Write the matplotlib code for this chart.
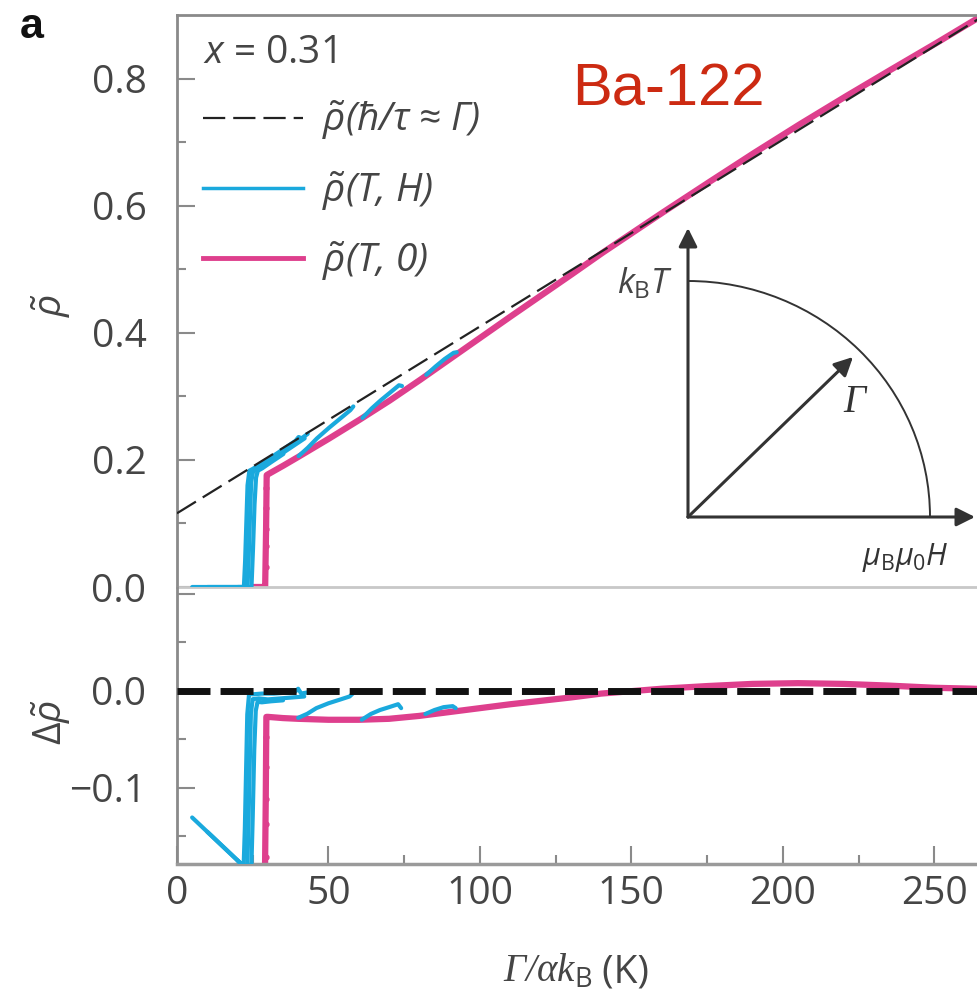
import numpy as np
import matplotlib
matplotlib.use('Agg')
import matplotlib.pyplot as plt
from matplotlib.lines import Line2D
from matplotlib.patches import Arc

plt.rcParams['font.family'] = ['Open Sans', 'DejaVu Sans']
plt.rcParams['mathtext.fontset'] = 'custom'
plt.rcParams['mathtext.rm'] = 'Open Sans'
plt.rcParams['mathtext.it'] = 'Open Sans:italic'
plt.rcParams['mathtext.bf'] = 'Open Sans:bold'

# linear fit rho(hbar/tau ~ Gamma)
fit_intercept = 0.116
fit_slope = 0.00295
fit_gamma = np.array([0.0, 274.0])

# rho(T, 0)
pink_gamma = np.array([25.0, 26.5, 28.0, 29.0, 29.3, 29.5, 30, 35, 40, 50, 60, 70, 80, 90, 100, 110, 120,
                       130, 140, 150, 160, 175, 190, 205, 220, 235, 250, 262, 274])
pink_rho = np.array([0.0, 0.0, 0.0, 0.0, 0.09, 0.176, 0.1775, 0.191, 0.205, 0.2335, 0.263, 0.2935, 0.326,
                     0.3595, 0.393, 0.4265, 0.4595, 0.4925, 0.526, 0.558, 0.590, 0.637, 0.6835,
                     0.7285, 0.772, 0.8145, 0.8565, 0.891, 0.925])
# sparse points through the transition
pink_tr_gamma = np.array([29.3, 29.3, 29.3, 29.3, 29.3])
pink_tr_rho = np.array([0.031, 0.065, 0.091, 0.124, 0.155])

# rho(T, H), field sweeps at several temperatures
cyan_curves = [
    ([5, 12, 18, 22.0, 22.4, 22.8, 23.2, 23.8, 25, 28, 32, 36, 39, 40, 41, 43],
     [0, 0, 0, 0, 0.04, 0.10, 0.16, 0.183, 0.186, 0.1956, 0.2074, 0.2202, 0.230, 0.236, 0.234, 0.241]),
    ([10, 16, 23.2, 23.6, 24.0, 24.4, 25.0, 27, 30, 34, 38, 42],
     [0, 0, 0, 0.05, 0.11, 0.165, 0.181, 0.1877, 0.1955, 0.2083, 0.2211, 0.2339]),
    ([20, 24.5, 25.0, 25.5, 26.0, 26.6, 28, 31, 35],
     [0, 0, 0.06, 0.13, 0.172, 0.183, 0.1866, 0.1965, 0.2093]),
    ([40, 43, 46, 50, 54, 57, 58],
     [0.206, 0.219, 0.2337, 0.2505, 0.2663, 0.2782, 0.2841]),
    ([61, 64, 67, 70, 73, 74],
     [0.266, 0.2808, 0.2937, 0.3055, 0.3174, 0.3163]),
    ([82, 85, 88, 91, 92],
     [0.3339, 0.3468, 0.3586, 0.3685, 0.3694]),
]

xticks = [0, 50, 100, 150, 200, 250]
top_yticks = [0.0, 0.2, 0.4, 0.6, 0.8]
bot_yticks = [-0.1, 0.0, 0.1]
bot_yticklabels = ['\u22120.1', '0.0', '']

CYAN = '#1aa9dd'
PINK = '#de3f8d'
TXT = '#454545'
SPINE = '#8a8a8a'


def fit(g):
    return fit_intercept + fit_slope * np.asarray(g, dtype=float)


W, H = 977, 994
fig = plt.figure(figsize=(W / 100, H / 100), dpi=100)

x0 = 177 / W
xw = 833 / W
ax1 = fig.add_axes([x0, (H - 587) / H, xw, 572 / H])
ax2 = fig.add_axes([x0, (H - 864) / H, xw, 277 / H])

# top panel
ax1.plot(pink_gamma, pink_rho, color=PINK, lw=4.5, solid_capstyle='round', zorder=2)
ax1.plot(pink_tr_gamma, pink_tr_rho, 'o', color=PINK, ms=3.5, zorder=2)
for g, r in cyan_curves:
    ax1.plot(g, r, color=CYAN, lw=3, solid_capstyle='round', zorder=3)
l, = ax1.plot(fit_gamma, fit(fit_gamma), color='#222222', lw=1.6, zorder=4)
l.set_dashes((10, 3.6))

# bottom panel: difference to the fit
ax2.plot(pink_gamma, pink_rho - fit(pink_gamma), color=PINK, lw=4.5, solid_capstyle='round', zorder=2)
ax2.plot(pink_tr_gamma, pink_tr_rho - fit(pink_tr_gamma), 'o', color=PINK, ms=3.5, zorder=2)
for g, r in cyan_curves:
    ax2.plot(g, np.array(r) - fit(g), color=CYAN, lw=3, solid_capstyle='round', zorder=3)
l2 = ax2.axhline(0, color='#111111', lw=5, zorder=4)
l2.set_dashes((4.75, 1.45))

ax1.set_xlim(0, 274)
ax2.set_xlim(0, 274)
ax1.set_ylim(0, 0.9)
ax2.set_ylim(-0.1787, 0.1069)

ax1.set_yticks(top_yticks)
ax1.set_yticks([0.1, 0.3, 0.5, 0.7], minor=True)
ax1.set_yticklabels(['%.1f' % v for v in top_yticks])
ax1.set_xticks([])
ax2.set_yticks(bot_yticks)
ax2.set_yticklabels(bot_yticklabels)
ax2.set_yticks([-0.15, -0.05, 0.05], minor=True)
ax2.set_xticks(xticks)
ax2.set_xticks([25, 75, 125, 175, 225, 275], minor=True)

for ax in (ax1, ax2):
    ax.tick_params(which='both', direction='in', colors=SPINE, labelcolor=TXT,
                   labelsize=28, width=1.5)
    ax.tick_params(which='major', length=13)
    ax.tick_params(which='minor', length=6.5)
    ax.tick_params(axis='y', pad=22)
    ax.tick_params(axis='x', pad=8)
    ax.spines['right'].set_visible(False)
    ax.spines['left'].set_color(SPINE)
    ax.spines['left'].set_linewidth(2)
    ax.patch.set_alpha(0)

ax1.spines['top'].set_color(SPINE)
ax1.spines['top'].set_linewidth(2)
ax1.spines['bottom'].set_color('#c8c8c8')
ax1.spines['bottom'].set_linewidth(2)
ax2.spines['top'].set_visible(False)
ax2.spines['bottom'].set_color('#9a9a9a')
ax2.spines['bottom'].set_linewidth(2.5)

# axis labels
fig.text(51 / W, 1 - 305 / H, r'$\tilde{\rho}$', rotation=90, ha='center', va='center',
         fontsize=28, color=TXT)
fig.text(51 / W, 1 - 722 / H, r'$\Delta\tilde{\rho}$', rotation=90, ha='center', va='center',
         fontsize=28, color=TXT)
xl = fig.text(503 / W, 1 - 982 / H, 'Γ/αk$_\\mathrm{B}$', ha='left', va='baseline',
              fontsize=28, color=TXT, family='Liberation Serif', style='italic')
ax2.annotate(' (K)', xy=(1, 0), xycoords=xl, ha='left', va='bottom', fontsize=28, color=TXT)

fig.text(20 / W, 1 - 38 / H, 'a', fontsize=31, fontweight='bold', family='Liberation Sans',
         color='#111111', va='baseline')
fig.text(572 / W, 1 - 105 / H, 'Ba-122', fontsize=43, family='Liberation Sans',
         color='#cc2a12', va='baseline')

# legend
handles = [Line2D([], [], color='#222222', lw=1.6, dashes=(10, 3.6)),
           Line2D([], [], color=CYAN, lw=2.5),
           Line2D([], [], color=PINK, lw=3.5)]
labels = [r'$\tilde{\rho}$(ħ/τ ≈ Γ)', r'$\tilde{\rho}$(T, H)', r'$\tilde{\rho}$(T, 0)']
leg = fig.legend(handles, labels, loc='upper left', bbox_to_anchor=(203 / W, 1 - 34 / H),
                 frameon=False, borderpad=0, borderaxespad=0, handlelength=2.57,
                 handletextpad=0.49, labelspacing=0.68, alignment='left',
                 prop={'size': 28, 'style': 'italic'}, title=r'$x$ = 0.31',
                 title_fontproperties={'size': 28})
for t in leg.get_texts():
    t.set_color(TXT)
leg.get_title().set_color(TXT)

# inset schematic, in figure pixels
ov = fig.add_axes([0, 0, 1, 1])
ov.set_xlim(0, W)
ov.set_ylim(H, 0)
ov.axis('off')
ox, oy = 688, 517
arrow = dict(arrowstyle='-|>', mutation_scale=28, lw=2.2, color='#333333', shrinkA=0, shrinkB=0)
ov.annotate('', xy=(ox, 228), xytext=(ox, oy), arrowprops=arrow)
ov.annotate('', xy=(975, oy), xytext=(ox, oy), arrowprops=arrow)
ov.annotate('', xy=(853, 357), xytext=(ox, oy), arrowprops=arrow)
ov.add_patch(Arc((ox, oy), 2 * 242, 2 * 236, theta1=270, theta2=360, color='#333333', lw=1.4))
ov.text(854, 402, 'Γ', fontsize=28, family='Liberation Serif', style='italic', color='#333333',
        ha='center', va='center')
ov.text(645, 293, r'$k_\mathrm{B}T$', fontsize=25, color=TXT, ha='center', va='baseline')
ov.text(862, 565, r'$\mu_\mathrm{B}\mu_\mathrm{0}H$', fontsize=22, color='#333333', ha='left',
        va='baseline')

fig.savefig('out.png', dpi=100)
